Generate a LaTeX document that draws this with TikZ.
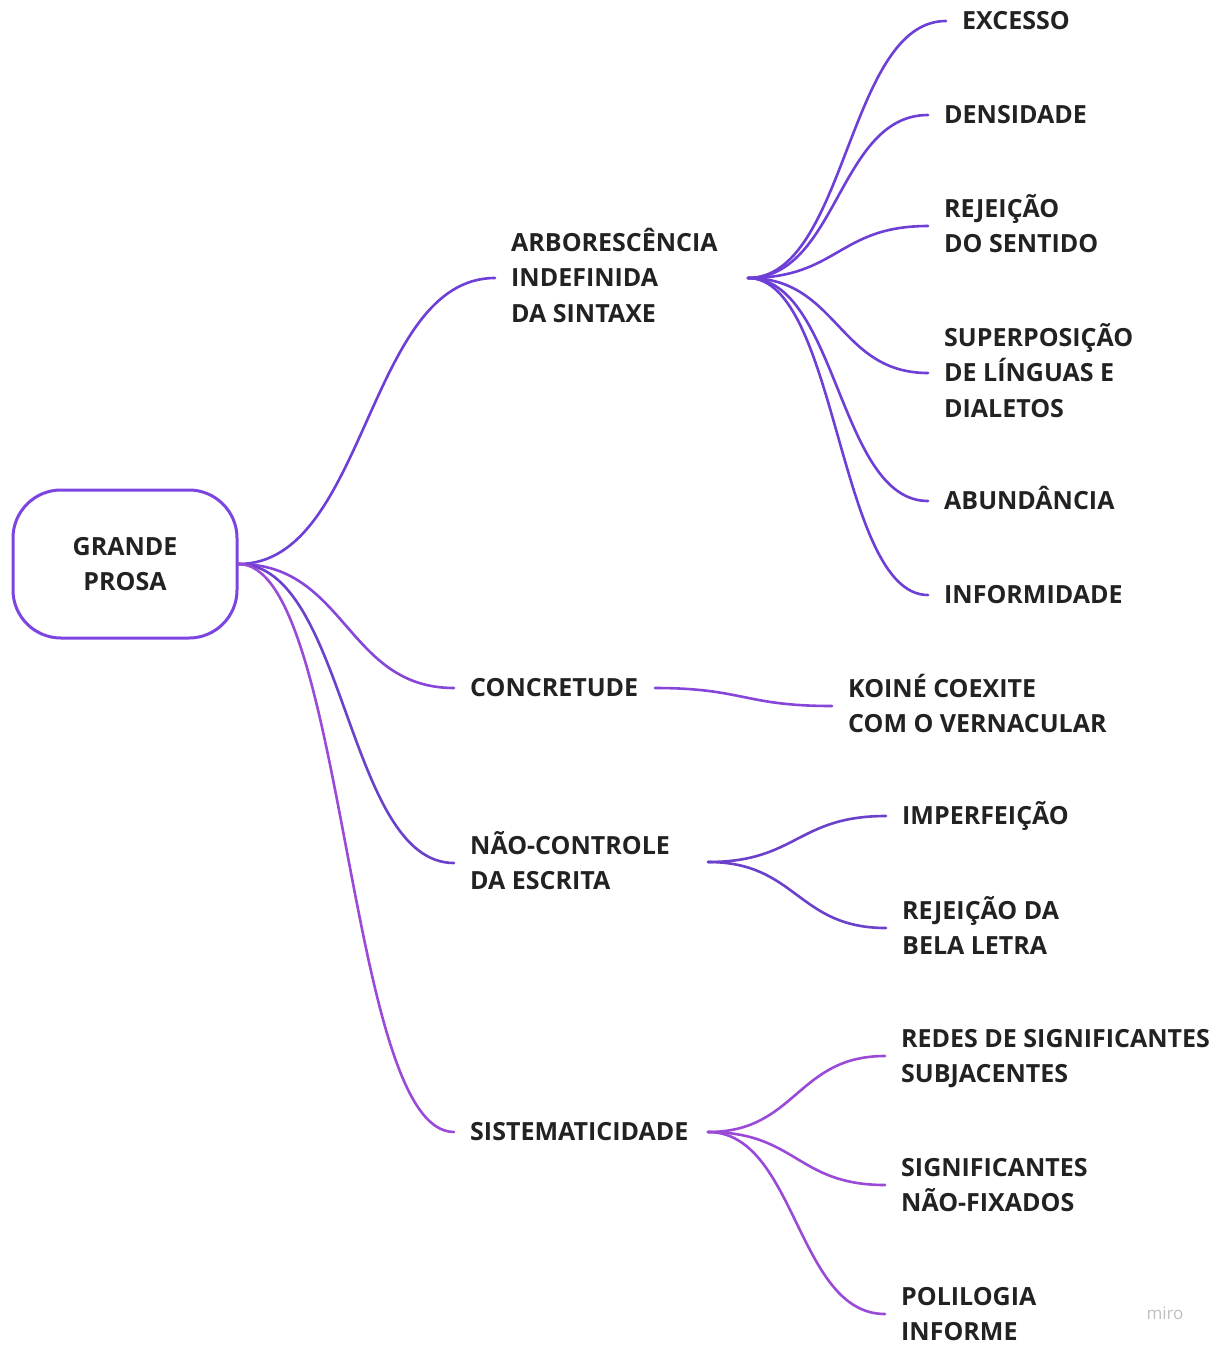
\documentclass[tikz,border=0pt]{standalone}
\usepackage{fontspec}
\setmainfont{Open Sans}
\usetikzlibrary{calc}

% strut that centres each text line on its capital letters
\newcommand\capstrut{\rule[-8.8pt]{0pt}{35.5pt}}

\definecolor{ink}{HTML}{222222}
\definecolor{rootline}{HTML}{7D45E0}
\definecolor{arbline}{HTML}{6E3FD6}
\definecolor{concline}{HTML}{8746DA}
\definecolor{naoline}{HTML}{6B41CC}
\definecolor{sistline}{HTML}{9B4AD8}

\tikzset{
  label/.style={anchor=west, align=left, inner xsep=16pt, inner ysep=0pt,
    text=ink, font=\fontsize{25}{35.5}\selectfont\bfseries},
  rootbox/.style={draw=rootline, line width=3pt, rounded corners=48pt,
    minimum width=224pt, minimum height=148pt, align=center, text=ink,
    font=\fontsize{25}{35.5}\selectfont\bfseries},
  link/.style={line width=2.6pt, line cap=round,
    to path={let \p1=(\tikztostart), \p2=(\tikztotarget) in
      .. controls ({(\x1+\x2)/2},\y1) and ({(\x1+\x2)/2},\y2) .. (\tikztotarget)}},
}

\begin{document}
\begin{tikzpicture}[x=1pt, y=-1pt]
\useasboundingbox[fill=white] (0,0) rectangle (1221,1345);

% central idea
\node[rootbox] (root) at (125,564) {\capstrut GRANDE\\\capstrut PROSA};

% first level
\node[label] (arb) at (495,278) {\capstrut ARBORESCÊNCIA\\\capstrut INDEFINIDA\\\capstrut DA SINTAXE};
\node[label] (conc) at (454,688) {\capstrut CONCRETUDE};
\node[label] (nao) at (454,863) {\capstrut NÃO-CONTROLE\\\capstrut DA ESCRITA};
\node[label] (sist) at (454,1132) {\capstrut SISTEMATICIDADE};

% ports on the right of the first-level labels
\coordinate (arbout) at (748,278);
\coordinate (concout) at (655,688);
\coordinate (naoout) at (708,862);
\coordinate (sistout) at (708,1132);

% second level
\node[label] (exc) at (946,21) {\capstrut EXCESSO};
\node[label] (den) at (928,115) {\capstrut DENSIDADE};
\node[label] (rej) at (928,226) {\capstrut REJEIÇÃO\\\capstrut DO SENTIDO};
\node[label] (sup) at (928,373) {\capstrut SUPERPOSIÇÃO\\\capstrut DE LÍNGUAS E\\\capstrut DIALETOS};
\node[label] (abu) at (928,501) {\capstrut ABUNDÂNCIA};
\node[label] (inf) at (928,595) {\capstrut INFORMIDADE};

\node[label] (koi) at (832,706) {\capstrut KOINÉ COEXITE\\\capstrut COM O VERNACULAR};

\node[label] (imp) at (886,816) {\capstrut IMPERFEIÇÃO};
\node[label] (rejb) at (886,928) {\capstrut REJEIÇÃO DA\\\capstrut BELA LETRA};

\node[label] (red) at (885,1056) {\capstrut REDES DE SIGNIFICANTES\\\capstrut SUBJACENTES};
\node[label] (sig) at (885,1185) {\capstrut SIGNIFICANTES\\\capstrut NÃO-FIXADOS};
\node[label] (pol) at (885,1314) {\capstrut POLILOGIA\\\capstrut INFORME};

% connectors from the central idea
\draw[link, draw=arbline] (root.east) to (arb.west);
\draw[link, draw=concline] (root.east) to (conc.west);
\draw[link, draw=naoline] (root.east) to (nao.west);
\draw[link, draw=sistline] (root.east) to (sist.west);

% connectors to the second level
\foreach \t in {exc,den,rej,sup,abu,inf}
  \draw[link, draw=arbline] (arbout) to (\t.west);
\draw[link, draw=concline] (concout) to (koi.west);
\foreach \t in {imp,rejb}
  \draw[link, draw=naoline] (naoout) to (\t.west);
\foreach \t in {red,sig,pol}
  \draw[link, draw=sistline] (sistout) to (\t.west);

% board watermark
\node[text=black!25, font=\fontsize{17}{20}\selectfont] (miro) at (1165,1313) {miro};
\end{tikzpicture}
\end{document}
